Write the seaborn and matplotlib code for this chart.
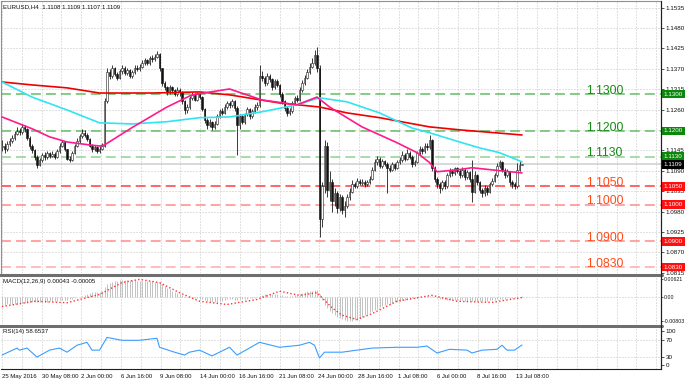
import numpy as np
import matplotlib
matplotlib.use("Agg")
import matplotlib.pyplot as plt
from matplotlib.lines import Line2D
from matplotlib.transforms import blended_transform_factory
import seaborn as sns

# ============================================================================
# DATA (EURUSD H4, 25 May -> 13 Jul 2016)
# prices are given in pips above 1.1000
# ============================================================================
BASE = 1.1000
first_open_pips = 155

close_pips = [
    160, 150, 165, 172, 180, 192, 200, 196, 210, 204,
    182, 158, 148, 130, 108, 120, 135, 128, 140, 132,
    138, 130, 145, 160, 170, 150, 125, 122, 140, 160,
    172, 185, 195, 190, 178, 160, 150, 155, 145, 152,
    160, 280, 360, 350, 370, 355, 345, 362, 372, 358,
    365, 350, 360, 372, 368, 375, 385, 392, 385, 398,
    395, 402, 410, 370, 330, 318, 305, 318, 310, 300,
    312, 305, 280, 258, 265, 290, 298, 285, 300, 292,
    260, 230, 215, 225, 210, 220, 240, 255, 250, 265,
    275, 270, 280, 262, 215, 240, 225, 245, 260, 240,
    255, 265, 270, 350, 345, 330, 350, 340, 320, 335,
    325, 300, 280, 262, 250, 255, 275, 290, 285, 310,
    330, 345, 360, 375, 385, 405, 370, -40, 50, 160,
    40, 60, 10, 30, -10, 20, -15, -5, 20, 35,
    55, 50, 65, 58, 62, 55, 60, 70, 95, 115,
    125, 105, 118, 110, 100, 95, 110, 100, 115, 120,
    135, 125, 140, 130, 110, 115, 140, 150, 145, 160,
    155, 175, 100, 70, 55, 45, 60, 50, 80, 90,
    85, 98, 92, 80, 95, 75, 88, 70, 35, 80,
    60, 40, 30, 45, 35, 55, 65, 80, 105, 115,
    95, 80, 90, 60, 55, 50, 95, 108, 109,
]
high_pips = [
    175, 168, 172, 182, 190, 200, 212, 208, 218, 215,
    208, 186, 165, 152, 134, 126, 140, 142, 146, 144,
    145, 142, 150, 166, 176, 172, 152, 132, 146, 165,
    180, 192, 205, 202, 194, 182, 165, 162, 158, 158,
    168, 290, 370, 368, 378, 374, 360, 368, 380, 376,
    372, 368, 366, 378, 380, 382, 392, 398, 396, 404,
    405, 410, 416, 412, 372, 336, 322, 325, 322, 315,
    318, 316, 308, 284, 272, 296, 305, 302, 306, 304,
    295, 262, 235, 232, 228, 226, 246, 260, 262, 272,
    282, 280, 286, 284, 268, 245, 244, 250, 265, 262,
    260, 272, 278, 380, 362, 350, 358, 356, 345, 342,
    340, 328, 305, 285, 268, 262, 282, 296, 298, 318,
    338, 352, 368, 385, 398, 420, 428, 378, 60, 175,
    170, 90, 70, 45, 38, 28, 25, 10, 28, 45,
    68, 62, 72, 70, 70, 66, 68, 78, 102, 125,
    132, 128, 124, 122, 115, 108, 116, 114, 122, 128,
    145, 140, 150, 145, 134, 122, 146, 158, 156, 168,
    168, 190, 178, 105, 76, 62, 68, 66, 86, 98,
    96, 103, 102, 96, 102, 98, 94, 92, 120, 90,
    84, 64, 46, 52, 50, 62, 72, 86, 112, 122,
    118, 98, 96, 92, 66, 60, 114, 117, 109,
]
low_pips = [
    145, 140, 146, 160, 168, 176, 188, 188, 192, 196,
    176, 152, 140, 122, 100, 104, 116, 122, 124, 126,
    128, 124, 126, 140, 156, 145, 120, 116, 118, 136,
    155, 168, 180, 184, 172, 155, 144, 145, 140, 140,
    148, 156, 275, 342, 345, 348, 338, 340, 356, 352,
    352, 345, 345, 355, 362, 362, 370, 380, 378, 380,
    388, 390, 398, 362, 322, 310, 298, 300, 302, 294,
    296, 296, 272, 245, 250, 260, 285, 280, 282, 286,
    255, 222, 205, 210, 203, 205, 216, 236, 244, 246,
    260, 262, 265, 255, 135, 205, 218, 220, 240, 232,
    235, 250, 258, 266, 335, 322, 326, 332, 312, 315,
    318, 292, 272, 255, 240, 244, 250, 270, 278, 282,
    305, 325, 340, 355, 370, 380, 360, -87, -60, 30,
    20, 10, -20, -5, -22, -18, -25, -33, -10, 12,
    30, 44, 46, 52, 54, 49, 50, 56, 66, 90,
    108, 98, 100, 104, 32, 88, 90, 94, 96, 110,
    115, 118, 120, 124, 103, 104, 112, 135, 138, 140,
    148, 150, 92, 60, 45, 32, 40, 42, 46, 76,
    78, 80, 86, 72, 76, 68, 70, 62, 8, 30,
    52, 30, 20, 24, 26, 30, 50, 60, 76, 100,
    88, 72, 74, 52, 46, 42, 46, 92, 107,
]

# moving averages (bar index, pips)
red_ma_x = [0, 12, 26, 39, 60, 79, 91, 111, 127, 138, 151, 171, 183, 208]
red_ma_pips = [333, 325, 317, 303, 303, 306, 298, 276, 265, 249, 236, 211, 203, 189]
cyan_ma_x = [0, 12, 26, 39, 52, 66, 79, 91, 104, 118, 127, 138, 151, 164, 171, 183, 191, 199, 208]
cyan_ma_pips = [333, 292, 257, 222, 219, 225, 236, 238, 252, 271, 290, 279, 249, 208, 195, 170, 154, 141, 116]
pink_ma_x = [0, 12, 19, 26, 35, 39, 41, 52, 66, 76, 91, 104, 118, 126, 131, 144, 158, 166, 171, 174, 183, 188, 199, 208]
pink_ma_pips = [238, 206, 184, 170, 162, 159, 162, 209, 265, 298, 314, 284, 271, 292, 265, 211, 168, 141, 114, 89, 95, 100, 92, 86]

# MACD histogram per bar (x 1e-4) and signal line
macd_hist_e4 = [
    -25, -25, -24, -24, -23, -22, -22, -21, -20, -19, -18, -17, -16, -15,
    -15, -15, -16, -15, -14, -13, -13, -12, -11, -10, -9, -8, -8, -7,
    -5, -3, 0, 3, 6, 9,
    12, 15, 17, 18, 18, 19,
    22, 35, 45, 50,
    53, 55, 57, 58, 58, 59, 60, 60,
    59, 58, 57, 56, 56, 55, 55, 54, 54, 53, 53, 52,
    45, 38, 32, 27, 23, 19,
    15, 12, 8, 5, 2, 0,
    -1, -2, -3, -5, -7, -10, -12, -14, -15, -16, -15, -13, -11, -9, -7, -6,
    -6, -8, -8, -7, -6, -5, -4, -3, -2, -1, 0, 4,
    8, 10, 12, 13, 13, 12, 11, 9, 7, 5, 4, 4, 5, 7, 9, 12, 15, 18, 20, 22,
    23, 24, 25,
    10, -10, -25, -35, -45, -52, -60, -65, -70, -74, -77, -80, -80, -79, -77, -75,
    -71, -66, -61, -56, -51, -46, -42, -38, -34, -30, -27, -24, -21,
    -18, -16, -14, -12, -10, -8, -6, -4, -3, -3, -2, 0, 2, 3, 4, 5, 4, 1, -2,
    -4, -6, -7, -8, -9, -9, -10, -10, -10, -10, -11, -11, -12, -12, -13, -13, -13,
    -12, -12, -11, -10, -9, -8, -7, -6,
    -5, -4, -3, -3, -2, -2, 0, 2, 4,
]
signal_x = [0, 13, 26, 39, 48, 55, 63, 71, 79, 90, 102, 111, 119, 126, 132, 136, 142, 148, 158, 172, 182, 196, 208]
signal_e4 = [-31, -13, -18, 10, 50, 61, 50, 16, -13, -24, -7, 21, 7, 16, -35, -60, -75, -55, -13, 7, -13, -17, -0.5]

# RSI(14)
rsi_x = [0, 6, 7, 10, 14, 19, 23, 26, 30, 34, 36, 39, 42, 48, 55, 62, 63, 69, 73, 75, 79, 84, 91, 94, 103,
         111, 119, 123, 125, 127, 129, 136, 142, 148, 158, 166, 170, 174, 179, 186, 188, 192, 198, 200, 202, 205, 208]
rsi_val = [34, 51, 46, 51, 29, 46, 51, 41, 58, 65, 46, 46, 77, 70, 70, 75, 53, 41, 34, 41, 46, 32, 53, 34, 65,
           53, 58, 65, 58, 27, 41, 41, 46, 51, 53, 53, 56, 39, 48, 46, 39, 46, 48, 58, 46, 46, 58.65]

# horizontal levels
levels = [1.1300, 1.1200, 1.1130, 1.1050, 1.1000, 1.0900, 1.0830]
level_labels = ["1.1300", "1.1200", "1.1130", "1.1050", "1.1000", "1.0900", "1.0830"]
level_line_colors = ["#63BF63", "#63BF63", "#8FD28F", "#FF3C3C", "#FF8A8A", "#FF8A8A", "#FFABAB"]
level_text_colors = ["#138C13", "#138C13", "#138C13", "#FF4A1A", "#FF4A1A", "#FF4A1A", "#FF4A1A"]
level_box_colors = ["#0B870B", "#0B870B", "#0B870B", "#FF1010", "#FF1010", "#FF1010", "#FF1010"]
last_price = 1.1109

# 1.1205 sits under the 1.1200 box in the original, so only its grid line is drawn
price_ticks = [1.1535, 1.1480, 1.1424, 1.1369, 1.1313, 1.1258, 1.1203, 1.1147,
               1.1092, 1.1037, 1.0981, 1.0926, 1.0870, 1.0815]
price_tick_labels = ["1.1535", "1.1480", "1.1425", "1.1370", "1.1315", "1.1260", "", "1.1145",
                     "1.1090", "1.1035", "1.0980", "1.0925", "1.0870", "1.0815"]
date_labels = ["25 May 2016", "30 May 08:00", "2 Jun 00:00", "6 Jun 16:00", "9 Jun 08:00",
               "14 Jun 00:00", "16 Jun 16:00", "21 Jun 08:00", "24 Jun 00:00", "28 Jun 16:00",
               "1 Jul 08:00", "6 Jul 00:00", "8 Jul 16:00", "13 Jul 08:00"]

# ============================================================================
# FIGURE
# ============================================================================
sns.set_style("white")
plt.rcParams["font.family"] = ["Liberation Sans", "DejaVu Sans"]

W, H = 685, 383
fig = plt.figure(figsize=(W / 100, H / 100), dpi=100)


def rect(x0, y0, x1, y1):
    return [x0 / W, 1 - y1 / H, (x1 - x0) / W, (y1 - y0) / H]


ax = fig.add_axes(rect(1, 1, 661, 273))
ax_macd = fig.add_axes(rect(1, 277, 661, 324), sharex=ax)
ax_rsi = fig.add_axes(rect(1, 328, 661, 369), sharex=ax)

GRID = dict(color="#C4C4C4", lw=0.72, ls=(0, (1, 2)), zorder=0)
grid_x = np.arange(0, 264, 7.93)
label_x = [k * 15.82 for k in range(len(date_labels))]

x = np.arange(len(close_pips))
close = BASE + np.array(close_pips) / 1e4
high = BASE + np.array(high_pips) / 1e4
low = BASE + np.array(low_pips) / 1e4
opens = np.r_[BASE + first_open_pips / 1e4, close[:-1]]
bull = close >= opens

# ---- main price panel ----
for gx in grid_x:
    ax.axvline(gx, **GRID)
for ty in price_ticks:
    ax.axhline(ty, **GRID)

ax.axhline(last_price, color="#D2D2D2", lw=1.2, zorder=0.5)
for lv, lc in zip(levels, level_line_colors):
    ax.axhline(lv, color=lc, lw=1.1, ls=(0, (6.5, 3.3)), zorder=1)

ax.vlines(x, low, high, color="#1A1A1A", lw=0.6, zorder=2)
ax.bar(x[bull], (close - opens)[bull], bottom=opens[bull], width=0.7,
       color="white", edgecolor="#1A1A1A", linewidth=0.4, zorder=2.5)
ax.bar(x[~bull], (opens - close)[~bull], bottom=close[~bull], width=0.7,
       color="#111111", edgecolor="#111111", linewidth=0.4, zorder=2.5)

sns.lineplot(x=red_ma_x, y=BASE + np.array(red_ma_pips) / 1e4, ax=ax, color="#F00000", lw=1.2, zorder=3)
sns.lineplot(x=cyan_ma_x, y=BASE + np.array(cyan_ma_pips) / 1e4, ax=ax, color="#30E4F2", lw=1.2, zorder=3)
sns.lineplot(x=pink_ma_x, y=BASE + np.array(pink_ma_pips) / 1e4, ax=ax, color="#FF1A8C", lw=1.2, zorder=3)

for lv, s, tc in zip(levels, level_labels, level_text_colors):
    ax.annotate(s, (233.6, lv), xytext=(0, 0.3), textcoords="offset points",
                fontsize=8.7, color=tc, va="baseline", ha="left", zorder=4)

ax.set_xlim(-0.4, 263.6)
ax.set_ylim(1.0814, 1.1553)
ax.yaxis.tick_right()
ax.set_yticks(price_ticks)
ax.set_yticklabels(price_tick_labels)
ax.tick_params(axis="y", labelsize=4.5, length=2, width=0.5, pad=1.5, colors="#111111")
ax.tick_params(axis="x", bottom=False, labelbottom=False)
ax.set_xlabel("")
ax.set_ylabel("")

box_tr = blended_transform_factory(fig.transFigure, ax.transData)
for lv, s, bc in zip(levels, level_labels, level_box_colors):
    ax.text(663.5 / W, lv, s, transform=box_tr, fontsize=4.5, color="white", va="center", ha="left",
            bbox=dict(boxstyle="square,pad=0.3", fc=bc, ec="none"), clip_on=False, zorder=10)
ax.text(663.5 / W, last_price, "1.1109", transform=box_tr, fontsize=4.5, color="white", va="center",
        ha="left", bbox=dict(boxstyle="square,pad=0.3", fc="black", ec="none"), clip_on=False, zorder=10)

fig.text(3 / W, 1 - 6.5 / H, "EURUSD,H4  1.1108 1.1109 1.1107 1.1109", fontsize=4.4,
         color="#111111", va="center", ha="left")

# ---- MACD panel ----
for gx in grid_x:
    ax_macd.axvline(gx, **GRID)
ax_macd.axhline(0, **GRID)
hist = np.array(macd_hist_e4) / 1e4
ax_macd.vlines(np.arange(len(hist)), 0, hist, color="#C2C2C2", lw=0.7, zorder=2)
sns.lineplot(x=signal_x, y=np.array(signal_e4) / 1e4, ax=ax_macd, color="#FF3030",
             lw=1.0, ls=(0, (1, 1.6)), zorder=3)
ax_macd.set_ylim(-0.0090, 0.0069)
ax_macd.yaxis.tick_right()
ax_macd.set_yticks([0.00621, 0.0, -0.00803])
ax_macd.set_yticklabels(["0.00621", "0.00", "-0.00803"])
ax_macd.tick_params(axis="y", labelsize=3.8, length=1.5, width=0.5, pad=0.3, colors="#111111")
ax_macd.tick_params(axis="x", bottom=False, labelbottom=False)
ax_macd.set_xlabel("")
ax_macd.set_ylabel("")
fig.text(3 / W, 1 - 282 / H, "MACD(12,26,9) 0.00043 -0.00005", fontsize=4.4,
         color="#111111", va="center", ha="left")

# ---- RSI panel ----
for gx in grid_x:
    ax_rsi.axvline(gx, **GRID)
for gy in (70, 30):
    ax_rsi.axhline(gy, **GRID)
sns.lineplot(x=rsi_x, y=rsi_val, ax=ax_rsi, color="#3C9CFF", lw=0.8, zorder=3)
ax_rsi.set_ylim(0, 100)
ax_rsi.yaxis.tick_right()
ax_rsi.set_yticks([93, 70, 30, 9])
ax_rsi.set_yticklabels(["100", "70", "30", "0"])
ax_rsi.tick_params(axis="y", labelsize=4.5, length=2, width=0.5, pad=1.5, colors="#111111")
ax_rsi.set_xticks(label_x)
ax_rsi.set_xticklabels(date_labels, ha="left")
ax_rsi.tick_params(axis="x", labelsize=4.3, length=2, width=0.5, pad=1.5, colors="#111111")
ax_rsi.set_xlim(-0.4, 263.6)
ax_rsi.set_xlabel("")
ax_rsi.set_ylabel("")
fig.text(3 / W, 1 - 332 / H, "RSI(14) 58.6537", fontsize=4.4, color="#111111", va="center", ha="left")

# ---- frames ----
for a in (ax, ax_macd, ax_rsi):
    for side in ("left", "top", "bottom"):
        a.spines[side].set_visible(False)
    a.spines["right"].set_color("#202020")
    a.spines["right"].set_linewidth(0.8)
ax.spines["top"].set_visible(True)
ax.spines["top"].set_color("#909090")
ax.spines["top"].set_linewidth(0.8)
ax.spines["left"].set_visible(True)
ax.spines["left"].set_color("#909090")
ax.spines["left"].set_linewidth(0.8)
ax_rsi.spines["bottom"].set_visible(True)
ax_rsi.spines["bottom"].set_color("#202020")
ax_rsi.spines["bottom"].set_linewidth(0.8)

for ysep in (275, 326):
    fig.add_artist(Line2D([0, 661.5 / W], [1 - ysep / H] * 2, lw=2.2, color="#6E6E6E"))
fig.add_artist(Line2D([661 / W] * 2, [1 - 369 / H, 1 - 1 / H], lw=0.8, color="#202020"))

fig.savefig("out.png", dpi=100, facecolor="white")
